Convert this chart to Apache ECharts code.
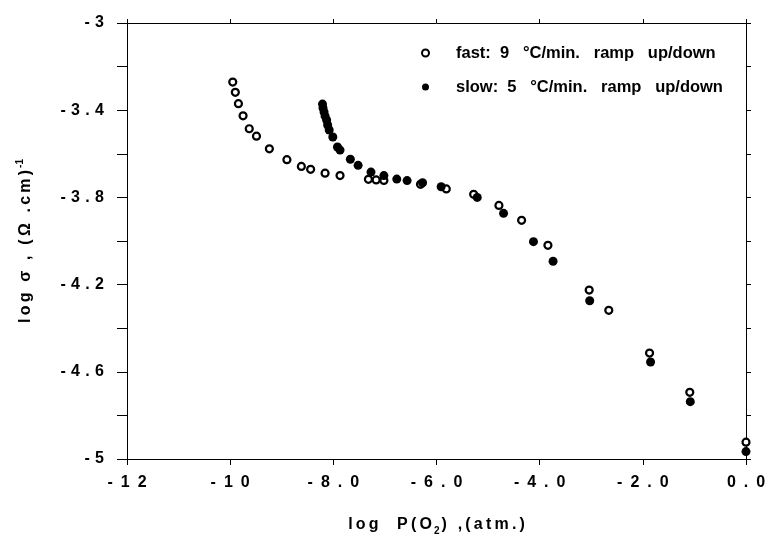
<!DOCTYPE html>
<html>
<head>
<meta charset="utf-8">
<script src="https://cdn.jsdelivr.net/npm/echarts@6/dist/echarts.min.js"></script>
<style>
  html, body { margin: 0; padding: 0; background: #fff; }
  #chart { width: 765px; height: 535px; }
</style>
</head>
<body>
<div id="chart"></div>
<script>
// fast: 9 °C/min ramp (open circles)
var fastX = [-9.95, -9.90, -9.84, -9.75, -9.63, -9.49, -9.24, -8.90, -8.62, -8.44, -8.16, -7.87,
             -7.32, -7.17, -7.02, -6.31, -5.81, -5.28, -4.79, -4.35, -3.84, -3.04, -2.66, -1.87, -1.09, 0.0];
var fastY = [-3.271, -3.318, -3.370, -3.426, -3.485, -3.519, -3.577, -3.627, -3.658, -3.671, -3.689, -3.700,
             -3.717, -3.720, -3.722, -3.740, -3.761, -3.786, -3.837, -3.905, -4.020, -4.225, -4.318, -4.514, -4.694, -4.923];
// slow: 5 °C/min ramp (filled circles)
var slowX = [-8.21, -8.20, -8.18, -8.16, -8.13, -8.11, -8.08, -8.01, -7.92, -7.87, -7.67, -7.52, -7.27,
             -7.02, -6.77, -6.57, -6.27, -5.91, -5.21, -4.70, -4.12, -3.74, -3.03, -1.85, -1.08, 0.0];
var slowY = [-3.372, -3.390, -3.408, -3.427, -3.445, -3.468, -3.491, -3.523, -3.569, -3.583, -3.625, -3.653, -3.684,
             -3.700, -3.716, -3.723, -3.733, -3.751, -3.800, -3.873, -4.003, -4.093, -4.274, -4.555, -4.737, -4.966];

var xTickValues = [-12, -10, -8, -6, -4, -2, 0];
var xTickLabels = ['-12', '-10', '-8.0', '-6.0', '-4.0', '-2.0', '0.0'];
var yTickValues = [-3, -3.4, -3.8, -4.2, -4.6, -5];
var yTickLabels = ['-3', '-3.4', '-3.8', '-4.2', '-4.6', '-5'];

var seriesNames = ['fast:  9   °C/min.   ramp   up/down', 'slow:  5   °C/min.   ramp   up/down'];

var FONT = 'Liberation Sans';

// spread characters apart, the old plot used wide letter spacing
function track(s, gap) {
    return Array.from(s).join(gap);
}

function pairs(xs, ys) {
    return xs.map(function (x, i) { return [x, ys[i]]; });
}

function lookup(values, labels, v, gap) {
    for (var i = 0; i < values.length; i++) {
        if (Math.abs(values[i] - v) < 1e-6) return track(labels[i], gap);
    }
    return '';
}

var myChart = echarts.init(document.getElementById('chart'));

var axisLine = { onZero: false, lineStyle: { color: '#000', width: 1 } };
var tickStyle = { color: '#000', width: 1 };

var option = {
    backgroundColor: '#fff',
    animation: false,
    grid: { left: 127, right: 19, top: 23, bottom: 76, containLabel: false, outerBoundsMode: 'none' },
    legend: {
        orient: 'vertical',
        left: 416,
        top: 39,
        itemWidth: 7,
        itemHeight: 7,
        itemGap: 16,
        textStyle: { fontFamily: FONT, fontWeight: 'bold', fontSize: 16.5, color: '#000', lineHeight: 18, padding: [0, 0, 0, 22] },
        data: [
            { name: seriesNames[0], icon: 'circle', itemStyle: { color: '#fff', borderColor: '#000', borderWidth: 2 } },
            { name: seriesNames[1], icon: 'circle', itemStyle: { color: '#000', borderWidth: 0 } }
        ]
    },
    xAxis: [{
        type: 'value', position: 'bottom', min: -12, max: 0, interval: 2,
        axisLine: axisLine,
        axisTick: { length: 6, lineStyle: tickStyle },
        splitLine: { show: false },
        axisLabel: {
            margin: 16, color: '#000', fontFamily: FONT, fontWeight: 'bold', fontSize: 16,
            formatter: function (v) { return lookup(xTickValues, xTickLabels, v, '\u2002'); }
        },
        name: track('log  P(O', '\u2009') + '{sub|2}' + track(') ,(atm.)', '\u2009'),
        nameLocation: 'middle',
        nameGap: 55,
        nameTextStyle: {
            color: '#000', fontFamily: FONT, fontWeight: 'bold', fontSize: 16,
            rich: { sub: { fontFamily: FONT, fontWeight: 'bold', fontSize: 10, padding: [12, 2, 0, 2] } }
        }
    }, {
        type: 'value', position: 'top', min: -12, max: 0, interval: 2,
        axisLine: axisLine,
        axisTick: { length: 4, lineStyle: tickStyle },
        splitLine: { show: false },
        axisLabel: { show: false }
    }],
    yAxis: [{
        type: 'value', position: 'left', min: -5, max: -3, interval: 0.2,
        axisLine: axisLine,
        axisTick: { length: 10, lineStyle: tickStyle },
        splitLine: { show: false },
        axisLabel: {
            margin: 23, color: '#000', fontFamily: FONT, fontWeight: 'bold', fontSize: 16,
            formatter: function (v) { return lookup(yTickValues, yTickLabels, v, '\u2004'); }
        },
        name: track('log σ , (Ω .cm)', '\u2009') + '{sup|-1}',
        nameLocation: 'middle',
        nameRotate: 90,
        nameGap: 90,
        nameTextStyle: {
            color: '#000', fontFamily: FONT, fontWeight: 'bold', fontSize: 16,
            rich: { sup: { fontFamily: FONT, fontWeight: 'bold', fontSize: 10, padding: [0, 0, 12, 2] } }
        }
    }, {
        type: 'value', position: 'right', min: -5, max: -3, interval: 0.2,
        axisLine: axisLine,
        axisTick: { length: 5, lineStyle: tickStyle },
        splitLine: { show: false },
        axisLabel: { show: false }
    }],
    series: [{
        name: seriesNames[0],
        type: 'scatter',
        symbol: 'circle',
        symbolSize: 7,
        itemStyle: { color: '#fff', borderColor: '#000', borderWidth: 2.2, opacity: 1 },
        data: pairs(fastX, fastY),
        z: 3
    }, {
        name: seriesNames[1],
        type: 'scatter',
        symbol: 'circle',
        symbolSize: 9,
        itemStyle: { color: '#000', opacity: 1 },
        data: pairs(slowX, slowY),
        z: 4
    }]
};

myChart.setOption(option);
</script>
</body>
</html>
